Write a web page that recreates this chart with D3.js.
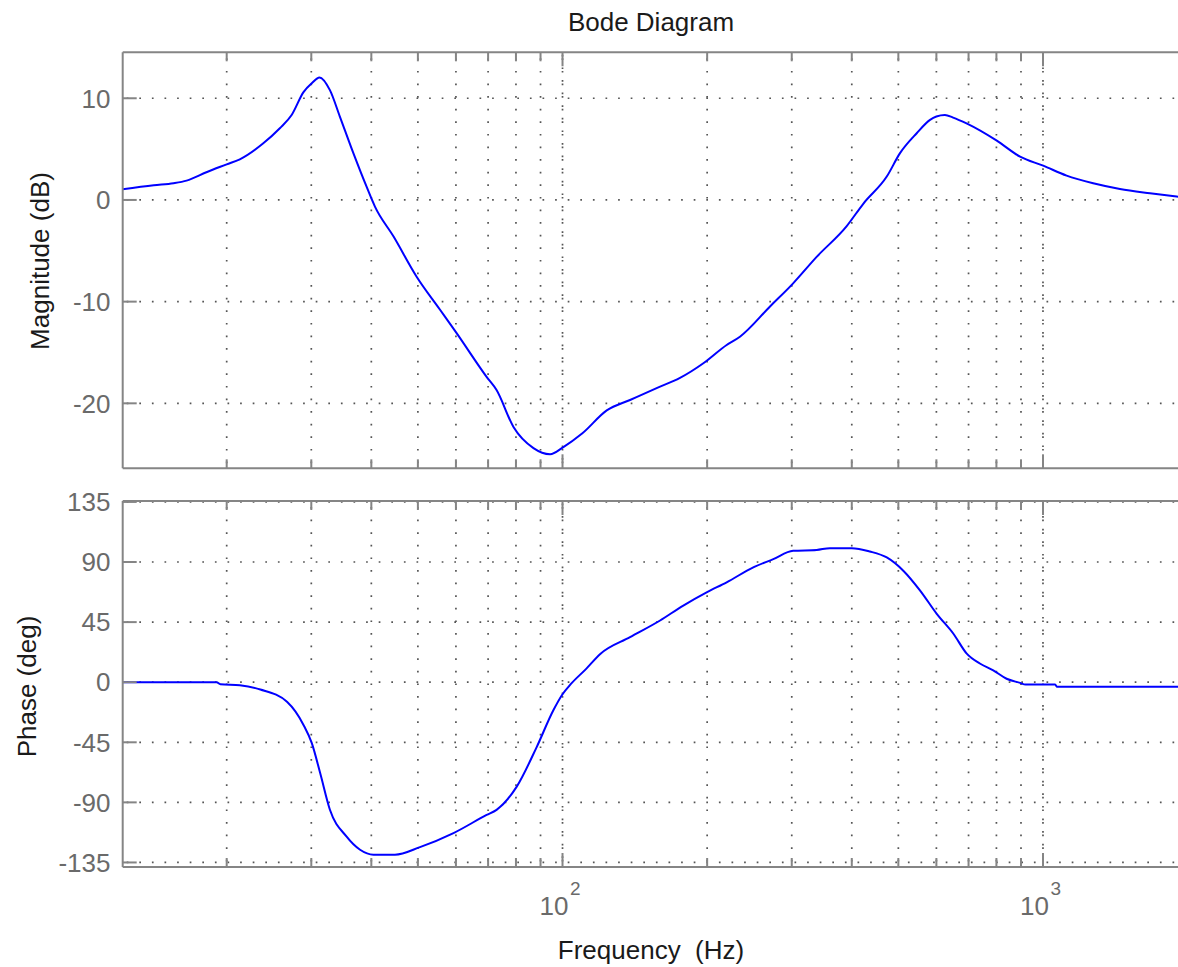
<!DOCTYPE html>
<html>
<head>
<meta charset="utf-8">
<script src="https://cdn.jsdelivr.net/npm/d3@7"></script>
<style>
  body { margin: 0; background: #fff; }
  text { font-family: Arial, "Liberation Sans", sans-serif; }
</style>
</head>
<body>
<svg id="chart" width="1178" height="967"></svg>
<script>
// ---------------- data ----------------
const magFreq = [12.15, 14.1, 15.5, 16.5, 18.2, 20.0, 21.3, 23.8, 25.8, 27.3, 28.9, 30.1, 31.2, 32.8, 34.4, 36.7, 39.1, 40.7, 44.5, 49.7, 55.6, 60.2, 69.5, 72.9, 79.0, 87.0, 94.2, 100.4, 110, 123.6, 138.2, 157, 175.6, 196.4, 219.6, 234, 270, 302, 338, 390, 423, 473, 504, 546, 582, 600, 625, 650, 695, 800, 896, 1001, 1120, 1272, 1446, 1670, 1910];
const magDb   = [1.05, 1.45, 1.65, 1.9, 2.75, 3.5, 4.0, 5.55, 7.05, 8.35, 10.6, 11.5, 12.05, 10.8, 8.2, 4.6, 1.3, -0.65, -3.6, -7.55, -10.8, -13.1, -17.4, -18.7, -22.3, -24.4, -25.0, -24.3, -22.95, -20.7, -19.67, -18.5, -17.5, -16.06, -14.26, -13.45, -10.5, -8.2, -5.6, -2.6, -0.35, 2.3, 4.6, 6.56, 7.87, 8.2, 8.35, 8.1, 7.5, 5.85, 4.26, 3.37, 2.39, 1.64, 1.08, 0.66, 0.32];

const phaseFreq = [12.15, 19.06, 19.4, 21.3, 23.5, 26.7, 28.9, 30.06, 31.3, 32.8, 35.5, 37.9, 40.4, 44.8, 50.5, 59.3, 69.5, 72.9, 80.3, 88.4, 95.7, 100, 104, 112, 120, 138.2, 159.6, 178.4, 199.5, 219.6, 249.5, 274.6, 302, 338, 360, 400, 436, 473, 512, 555, 601, 651, 694, 739, 788, 840, 896, 920, 1060, 1070, 1910];
const phaseDeg  = [0, 0, -1.5, -2.3, -5.5, -14.7, -32, -45.5, -68, -95.5, -115.5, -125.5, -129.2, -129.2, -123.5, -113, -99.4, -95.6, -78.2, -48.4, -21, -9, -1.5, 10, 21.3, 33.7, 46.2, 57.4, 67.3, 74.8, 86, 92.2, 98.4, 99, 100.4, 100.4, 97.9, 93.4, 83.5, 68.6, 51.2, 36.3, 21.4, 14, 8.9, 2.6, -0.5, -1.8, -1.8, -3.4, -3.4];

const magTicks   = [-20, -10, 0, 10];
const phaseTicks = [-135, -90, -45, 0, 45, 90, 135];
const majorFreqTicks = [100, 1000];
const minorFreqTicks = [20, 30, 40, 50, 60, 70, 80, 90, 200, 300, 400, 500, 600, 700, 800, 900];
const majorFreqLabels = [{ base: "10", exp: "2" }, { base: "10", exp: "3" }];

const titleText = "Bode Diagram";
const xLabel = "Frequency  (Hz)";
const magLabel = "Magnitude (dB)";
const phaseLabel = "Phase (deg)";

// ---------------- layout ----------------
const svg = d3.select("#chart");
const axisColor = "#858585";
const gridColor = "#555";
const tickTextColor = "#6a6a6a";
const labelColor = "#1a1a1a";
const curveColor = "#0000ff";

const left = 122.7, right = 1178;
const x = d3.scaleLog().domain([12.15, 1910]).range([left, right]);

const panels = [
  { top: 52.3, bottom: 468.3, y: d3.scaleLinear().domain([-26.39, 14.52]).range([468.3, 52.3]),
    ticks: magTicks, freq: magFreq, vals: magDb, label: magLabel, labelX: 49, labelY: 261 },
  { top: 501, bottom: 867, y: d3.scaleLinear().domain([-138.4, 135.7]).range([867, 501]),
    ticks: phaseTicks, freq: phaseFreq, vals: phaseDeg, label: phaseLabel, labelX: 35.5, labelY: 686.5 }
];

panels.forEach((p) => {
  const g = svg.append("g");

  // horizontal grid
  g.selectAll(null).data(p.ticks).enter().append("line")
    .attr("x1", left).attr("x2", right)
    .attr("y1", d => p.y(d)).attr("y2", d => p.y(d))
    .attr("stroke", gridColor).attr("stroke-width", 1.7)
    .attr("stroke-dasharray", "1.7 10.9").attr("stroke-dashoffset", -4);

  // vertical grid (minor + major, majors doubled like the original)
  const allV = minorFreqTicks.concat(majorFreqTicks);
  g.selectAll(null).data(allV).enter().append("line")
    .attr("x1", d => x(d)).attr("x2", d => x(d))
    .attr("y1", p.top).attr("y2", p.bottom)
    .attr("stroke", gridColor).attr("stroke-width", 1.7)
    .attr("stroke-dasharray", "1.7 10.9").attr("stroke-dashoffset", -6);
  g.selectAll(null).data(majorFreqTicks).enter().append("line")
    .attr("x1", d => x(d)).attr("x2", d => x(d))
    .attr("y1", p.top).attr("y2", p.bottom)
    .attr("stroke", gridColor).attr("stroke-width", 1.7)
    .attr("stroke-dasharray", "1.7 10.9").attr("stroke-dashoffset", -2.5);

  // curve
  const line = d3.line()
    .x((d, i) => x(p.freq[i]))
    .y(d => p.y(d))
    .curve(d3.curveMonotoneX);
  g.append("path").datum(p.vals)
    .attr("fill", "none").attr("stroke", curveColor)
    .attr("stroke-width", 2).attr("stroke-linejoin", "round")
    .attr("d", line);

  // frame (left, top, bottom)
  g.append("line").attr("x1", left).attr("x2", left).attr("y1", p.top).attr("y2", p.bottom)
    .attr("stroke", axisColor).attr("stroke-width", 2);
  g.append("line").attr("x1", left).attr("x2", right + 2).attr("y1", p.top).attr("y2", p.top)
    .attr("stroke", axisColor).attr("stroke-width", 2);
  g.append("line").attr("x1", left).attr("x2", right + 2).attr("y1", p.bottom).attr("y2", p.bottom)
    .attr("stroke", axisColor).attr("stroke-width", 2);

  // y ticks (inward)
  g.selectAll(null).data(p.ticks).enter().append("line")
    .attr("x1", left).attr("x2", left + 14)
    .attr("y1", d => p.y(d)).attr("y2", d => p.y(d))
    .attr("stroke", axisColor).attr("stroke-width", 2);
  g.selectAll(null).data(p.ticks).enter().append("text")
    .attr("x", 110.5).attr("y", d => p.y(d) + 9.3)
    .attr("text-anchor", "end").attr("font-size", 26).attr("fill", tickTextColor)
    .text(d => d);

  // x ticks (inward, top and bottom)
  [[minorFreqTicks, 9], [majorFreqTicks, 14]].forEach(([arr, len]) => {
    g.selectAll(null).data(arr).enter().append("line")
      .attr("x1", d => x(d)).attr("x2", d => x(d))
      .attr("y1", p.top).attr("y2", p.top + len)
      .attr("stroke", axisColor).attr("stroke-width", 2);
    g.selectAll(null).data(arr).enter().append("line")
      .attr("x1", d => x(d)).attr("x2", d => x(d))
      .attr("y1", p.bottom).attr("y2", p.bottom - len)
      .attr("stroke", axisColor).attr("stroke-width", 2);
  });

  // y label
  g.append("text")
    .attr("transform", `translate(${p.labelX},${p.labelY}) rotate(-90)`)
    .attr("text-anchor", "middle").attr("font-size", 26).attr("fill", labelColor)
    .text(p.label);
});

// x tick labels (10^n) under the bottom panel
const xl = svg.append("g");
majorFreqTicks.forEach((f, i) => {
  xl.append("text").attr("x", x(f) + 6).attr("y", 915)
    .attr("text-anchor", "end").attr("font-size", 26).attr("fill", tickTextColor)
    .text(majorFreqLabels[i].base);
  xl.append("text").attr("x", x(f) + 7.5).attr("y", 895)
    .attr("text-anchor", "start").attr("font-size", 19).attr("fill", tickTextColor)
    .text(majorFreqLabels[i].exp);
});

// title and x label
svg.append("text").attr("x", 651).attr("y", 31)
  .attr("text-anchor", "middle").attr("font-size", 26).attr("fill", labelColor)
  .text(titleText);
svg.append("text").attr("x", 651).attr("y", 959)
  .attr("text-anchor", "middle").attr("font-size", 26).attr("fill", labelColor)
  .style("white-space", "pre")
  .text(xLabel);
</script>
</body>
</html>
